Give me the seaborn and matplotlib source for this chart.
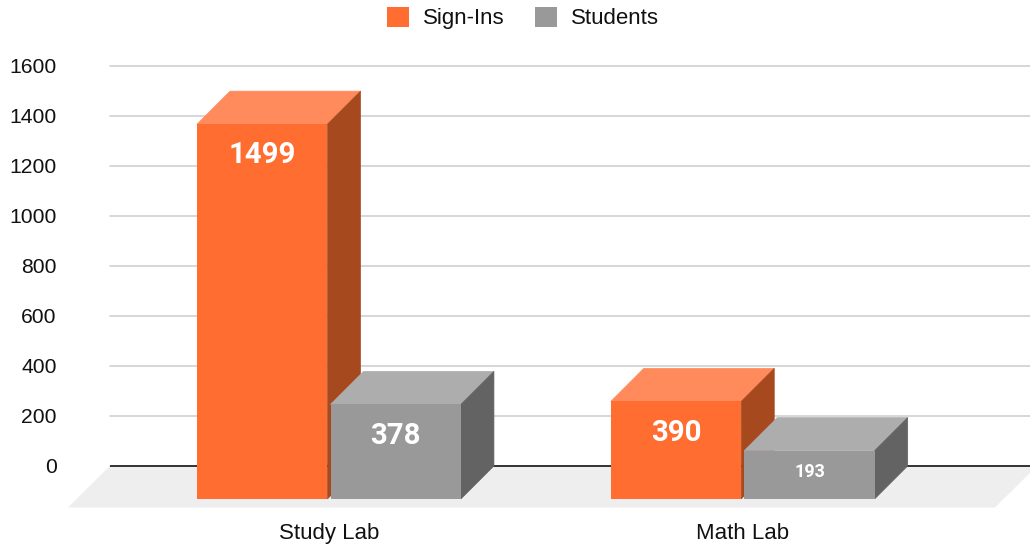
import matplotlib
matplotlib.use("Agg")
import matplotlib.pyplot as plt
from matplotlib.patches import Polygon
import pandas as pd
import seaborn as sns

# ---- data ----
categories = ["Study Lab", "Math Lab"]
series_names = ["Sign-Ins", "Students"]
sign_ins = [1499, 390]
students = [378, 193]
y_ticks = [0, 200, 400, 600, 800, 1000, 1200, 1400, 1600]
label_sizes = {"Sign-Ins": [21.2, 21.2], "Students": [21.2, 13]}
label_drops = {"Sign-Ins": [22.4, 22.4], "Students": [22.4, 15.2]}

# ---- style ----
front = {"Sign-Ins": "#FF6D31", "Students": "#999999"}
top_c = {"Sign-Ins": "#FF8A5C", "Students": "#ADADAD"}
side_c = {"Sign-Ins": "#A6491F", "Students": "#636363"}
W, H = 1030, 545
PX_LEFT, PX_RIGHT, PX_TOP, PX_BOTTOM = 110, 1030, 65.9, 507.5
PX_PER_UNIT = 0.25          # vertical scale
PX_PER_CAT = 413.75         # horizontal scale
CAT0_PX = 329.0             # pixel position of first category
DEPTH_PX = 33               # 3-D extrusion of the boxes
FLOOR_PX = 42               # 3-D depth of the floor

sns.set_theme(style="white")
plt.rcParams["font.family"] = ["Liberation Sans", "DejaVu Sans"]

df = pd.DataFrame({
    "lab": categories * 2,
    "series": [series_names[0]] * 2 + [series_names[1]] * 2,
    "value": sign_ins + students,
})

fig = plt.figure(figsize=(W / 100, H / 100), dpi=100)
ax = fig.add_axes([PX_LEFT / W, 1 - PX_BOTTOM / H,
                   (PX_RIGHT - PX_LEFT) / W, (PX_BOTTOM - PX_TOP) / H])

depth_y = DEPTH_PX / PX_PER_UNIT
depth_x = DEPTH_PX / PX_PER_CAT

sns.barplot(data=df, x="lab", y="value", hue="series", order=categories,
            hue_order=series_names, palette=front, saturation=1,
            width=0.645, gap=0.0225, linewidth=0, ax=ax)

ax.set_xlim((PX_LEFT - CAT0_PX) / PX_PER_CAT, (PX_RIGHT - CAT0_PX) / PX_PER_CAT)
floor_y = -(PX_BOTTOM - (PX_TOP + 1600 * PX_PER_UNIT)) / PX_PER_UNIT
ax.set_ylim(floor_y, 1600)
ax.set_yticks(y_ticks)
ax.set_xlabel("")
ax.set_ylabel("")
sns.despine(ax=ax, left=True, bottom=True)

ax.set_axisbelow(True)
ax.yaxis.grid(True, color="#CCCCCC", linewidth=1.1, zorder=0.5)
for gl in ax.get_ygridlines():
    gl.set_clip_on(False)
ax.xaxis.grid(False)
ax.tick_params(axis="y", length=0, pad=38.3, labelsize=15.2, labelcolor="#111111")
ax.tick_params(axis="x", length=0, pad=11.5, labelsize=16, labelcolor="#111111")

# floor and baseline
xl, xr = ax.get_xlim()
floor_dx = FLOOR_PX / PX_PER_CAT
ax.add_patch(Polygon([(xl, 0), (xr + 7 / PX_PER_CAT, 0),
                      (xr + 7 / PX_PER_CAT - floor_dx, floor_y), (xl - floor_dx, floor_y)],
                     closed=True, facecolor="#EEEEEE", edgecolor="none",
                     clip_on=False, zorder=0.8))
ax.axhline(0, color="#333333", linewidth=1.4, zorder=1)

# 3-D faces and value labels, computed from the bars seaborn drew
for i, (name, cont) in enumerate(zip(series_names, ax.containers)):
    z = 3 + i
    for j, r in enumerate(cont):
        r.set_y(-depth_y)          # front face sits in front of the back wall
        r.set_zorder(z + 0.2)
        x0, x1 = r.get_x(), r.get_x() + r.get_width()
        b, t = r.get_y(), r.get_y() + r.get_height()
        ax.add_patch(Polygon([(x0, t), (x1, t), (x1 + depth_x, t + depth_y), (x0 + depth_x, t + depth_y)],
                             closed=True, facecolor=top_c[name], edgecolor=top_c[name],
                             linewidth=0.5, zorder=z))
        ax.add_patch(Polygon([(x1, b), (x1, t), (x1 + depth_x, t + depth_y), (x1 + depth_x, b + depth_y)],
                             closed=True, facecolor=side_c[name], edgecolor=side_c[name],
                             linewidth=0.5, zorder=z + 0.1))
        ax.annotate(f"{r.get_height():.0f}", xy=((x0 + x1) / 2, t),
                    xytext=(0, -label_drops[name][j]), textcoords="offset points",
                    ha="center", va="center", color="white", fontsize=label_sizes[name][j],
                    family="Roboto", fontweight="bold", zorder=10)

sns.move_legend(ax, "center", bbox_to_anchor=(523 / W, 1 - 18 / H),
                bbox_transform=fig.transFigure, ncol=2, title=None, frameon=False,
                fontsize=16, handlelength=0.99, handleheight=0.99,
                handletextpad=0.65, columnspacing=1.35, borderpad=0, borderaxespad=0)
for txt in ax.get_legend().get_texts():
    txt.set_color("#111111")

fig.savefig("out.png", dpi=100, facecolor="white")
